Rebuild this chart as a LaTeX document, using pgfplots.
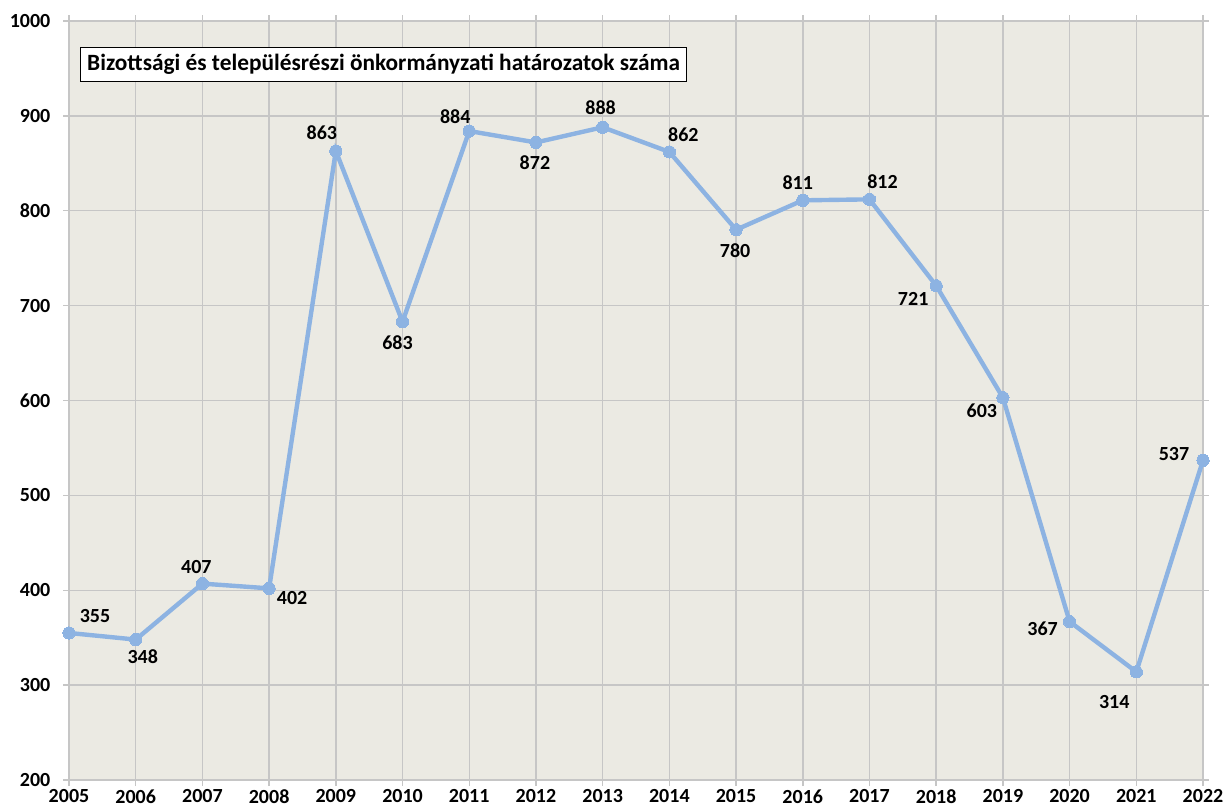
\documentclass[border=0pt]{standalone}
\usepackage{pgfplots}
\pgfplotsset{compat=1.18}
\usepackage{fontspec}
\setmainfont{Carlito}
\definecolor{bgc}{HTML}{EBEAE3}
\definecolor{gridc}{HTML}{C6C6C6}
\definecolor{linec}{HTML}{8DB3E2}
\begin{document}
\begin{tikzpicture}
\begin{axis}[
  name=main,
  scale only axis,
  width=850.5pt, height=569.25pt,
  xmin=2005, xmax=2022, ymin=200, ymax=1000,
  xtick={2005,2006,...,2022},
  ytick={200,300,...,1000},
  /pgf/number format/1000 sep={},
  /pgf/number format/assume math mode=true,
  ticklabel style={font=\fontsize{15}{18}\selectfont\bfseries},
  yticklabel style={xshift=-6pt},
  xticklabel style={yshift=1pt},
  grid=major,
  major grid style={gridc, line width=1.1pt},
  tick style={gridc, line width=1.1pt},
  tick align=outside,
  major tick length=4.5pt,
  axis line style={draw=none},
  axis background/.style={fill=bgc},
  clip=false,
  visualization depends on={\thisrow{dx}\as\dx},
  visualization depends on={\thisrow{dy}\as\dy},
  nodes near coords,
  every node near coord/.style={font=\fontsize{15}{18}\selectfont\bfseries, anchor=center, xshift=0.75*\dx pt, yshift=0.75*\dy pt, text=black},
]
\addplot[color=linec, line width=3.3pt, mark=*, mark size=4.6pt, mark options={fill=linec, draw=linec, line width=0pt}] table {
x y dx dy
2005 355 26 17
2006 348 7 -17
2007 407 -6 17
2008 402 23 -10
2009 863 -14 18
2010 683 -5 -21
2011 884 -14 14
2012 872 -1 -20
2013 888 -2 20
2014 862 14 17
2015 780 -1 -21
2016 811 -5 18
2017 812 13 18
2018 721 -23 -13
2019 603 -21 -13
2020 367 -27 -7
2021 314 -22 -30
2022 537 -29 6
};
\node[draw=black, fill=white, line width=0.8pt, anchor=west, inner xsep=5pt, inner ysep=5pt, font=\fontsize{17.5}{20}\selectfont\bfseries] at (rel axis cs:0.0097,0.943) {Bizottsági és településrészi önkormányzati határozatok száma};
\end{axis}
\pgfresetboundingbox
\path[use as bounding box] ([xshift=-51.75pt,yshift=-20.25pt]main.south west) rectangle ([xshift=-51.75pt+919.5pt,yshift=-20.25pt+605.25pt]main.south west);
\end{tikzpicture}
\end{document}
